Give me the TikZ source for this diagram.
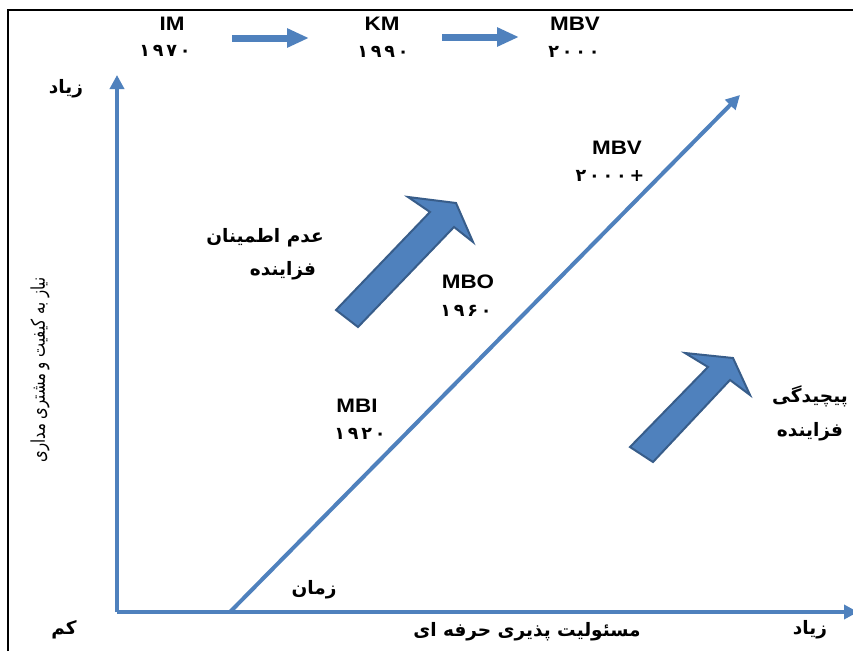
\documentclass[tikz,border=0pt]{standalone}
\usepackage{fontspec}
\usetikzlibrary{arrows.meta}
\setmainfont{Liberation Sans}[FakeStretch=1.15]
\newfontfamily\farsi[Script=Arabic]{DejaVu Sans}
\newfontfamily\farsinarrow[Script=Arabic,FakeStretch=0.78]{DejaVu Sans}
\newfontfamily\digitsfont[LetterSpace=16]{DejaVu Sans}
\TeXXeTstate=1
\definecolor{axisblue}{RGB}{79,129,189}
\definecolor{edgeblue}{RGB}{56,93,138}
\tikzset{
  lat/.style={font=\fontsize{19.5}{22}\selectfont\bfseries, inner sep=0pt},
  num/.style={font=\fontsize{17.5}{20}\selectfont\digitsfont\bfseries, inner sep=0pt},
  fa/.style={font=\fontsize{18.5}{21}\selectfont\farsi\bfseries, inner sep=0pt},
  faplain/.style={font=\fontsize{19}{22}\selectfont\farsinarrow, inner sep=0pt},
  axis/.style={draw=axisblue, line width=4pt, -{Triangle[length=14pt,width=14pt]}},
  toparrow/.style={draw=axisblue, line width=7pt, -{Triangle[length=22pt,width=18pt]}},
  blockarrow/.style={fill=axisblue, draw=edgeblue, line width=2pt, line join=miter},
}
\begin{document}
\begin{tikzpicture}[x=1pt, y=-1pt]
\useasboundingbox (0,0) rectangle (853,651);
\fill[white] (0,0) rectangle (853,651);

% outer frame
\draw[line width=1.6pt] (8,651) -- (8,10) -- (853,10);

% timeline at the top
\node[lat] (im) at (172,24) {IM};
\node[num] (y1970) at (165,51) {۱۹۷۰};
\node[lat] (km) at (382,24) {KM};
\node[num] (y1990) at (383,52) {۱۹۹۰};
\node[lat] (mbvtop) at (575,24) {MBV};
\node[num] (y2000) at (574,52) {۲۰۰۰};
\coordinate (ta1s) at (232,38);
\coordinate (ta1e) at (309,38);
\coordinate (ta2s) at (442,37);
\coordinate (ta2e) at (519,37);
\draw[toparrow] (ta1s) -- (ta1e);
\draw[toparrow] (ta2s) -- (ta2e);

% axes
\coordinate (origin) at (117,612);
\coordinate (ytip) at (117,75);
\coordinate (xtip) at (858,612);
\draw[axis] (origin) -- (ytip);
\draw[axis] (origin) -- (xtip);

% diagonal trend
\coordinate (d0) at (230,612);
\coordinate (d1) at (740,95);
\draw[axis] (d0) -- (d1);

% block arrows
\draw[blockarrow] (336,310) -- (430,212) -- (408,197) -- (456,203) -- (473,242) -- (454,227) -- (358,327) -- cycle;
\draw[blockarrow] (630,447) -- (708,367) -- (685,353) -- (733,358) -- (750,395) -- (730,380) -- (653,462) -- cycle;

% stages along the diagonal
\node[lat] (mbv) at (617,148) {MBV};
\node[num] (y2000p) at (610,176) {۲۰۰۰+};
\node[lat] (mbo) at (468,282) {MBO};
\node[num] (y1960) at (466,311) {۱۹۶۰};
\node[lat] (mbi) at (357,406) {MBI};
\node[num] (y1920) at (360,434) {۱۹۲۰};

% Persian labels
\node[fa] (high1) at (66,89) {\beginR زیاد\endR};
\node[fa] (unc1) at (265,238) {\beginR عدم اطمینان\endR};
\node[fa] (unc2) at (283,271) {\beginR فزاینده\endR};
\node[fa] (cpx1) at (810,396) {\beginR پیچیدگی\endR};
\node[fa] (cpx2) at (810,432) {\beginR فزاینده\endR};
\node[fa] (time) at (314,590) {\beginR زمان\endR};
\node[fa] (low) at (64,630) {\beginR کم\endR};
\node[fa] (xlabel) at (527,632) {\beginR مسئولیت پذیری حرفه ای\endR};
\node[fa] (high2) at (810,630) {\beginR زیاد\endR};
\node[faplain, rotate=90] (ylabel) at (40,370) {\beginR نیاز به کیفیت و مشتری مداری\endR};
\end{tikzpicture}
\end{document}
